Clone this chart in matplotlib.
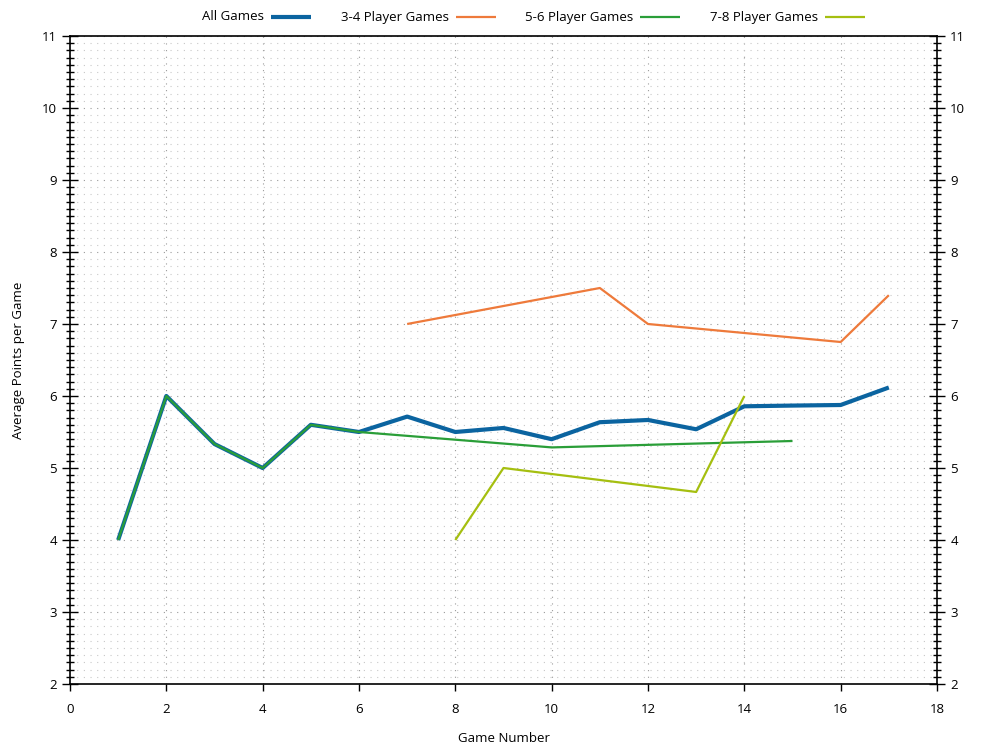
import matplotlib
matplotlib.use("Agg")
import matplotlib.pyplot as plt
from matplotlib.ticker import MultipleLocator
from matplotlib.lines import Line2D

plt.rcParams['font.family'] = ['Open Sans', 'DejaVu Sans']
plt.rcParams['font.size'] = 9.5

all_x = list(range(1, 18))
all_y = [4.0, 6.0, 5.333, 5.0, 5.6, 5.5, 5.714, 5.5, 5.556, 5.4, 5.636, 5.667, 5.538, 5.857, 5.867, 5.875, 6.118]

p34_x = [7, 11, 12, 16, 17]
p34_y = [7.0, 7.5, 7.0, 6.75, 7.4]

p56_x = [1, 2, 3, 4, 5, 6, 10, 15]
p56_y = [4.0, 6.0, 5.333, 5.0, 5.6, 5.5, 5.286, 5.375]

p78_x = [8, 9, 13, 14]
p78_y = [4.0, 5.0, 4.667, 6.0]

series_labels = ['All Games', '3-4 Player Games', '5-6 Player Games', '7-8 Player Games']
series_colors = ['#0b64a0', '#ee7a3b', '#2a9e38', '#a5bf10']
series_widths = [3.0, 1.6, 1.6, 1.6]

W, H = 1000, 750
fig = plt.figure(figsize=(10, 7.5), dpi=100)
ax = fig.add_axes([0.07, 0.088, 0.867, 0.864])

data = [(all_x, all_y), (p34_x, p34_y), (p56_x, p56_y), (p78_x, p78_y)]
for (xs, ys), lab, c, lw, z in zip(data, series_labels, series_colors, series_widths, [3, 4, 4, 4]):
    ax.plot(xs, ys, color=c, lw=lw, label=lab, zorder=z, solid_capstyle='butt')

ax.set_xlim(0, 18)
ax.set_ylim(2, 11)
ax.xaxis.set_major_locator(MultipleLocator(2))
ax.yaxis.set_major_locator(MultipleLocator(1))
ax.yaxis.set_minor_locator(MultipleLocator(0.1))

ax.grid(which='major', axis='both', linestyle=(0, (1, 5)), color='#9a9a9a', lw=0.8)
ax.grid(which='minor', axis='y', linestyle=(0, (1, 5)), color='#c8c8c8', lw=0.8)
ax.set_axisbelow(True)

ax.tick_params(axis='y', which='major', direction='inout', length=11, width=1,
               left=True, right=True, labelleft=True, labelright=True, pad=4)
ax.tick_params(axis='y', which='minor', direction='inout', length=6, width=1,
               left=True, right=True)
ax.tick_params(axis='x', which='major', direction='out', length=5, width=1, pad=9)
for s in ax.spines.values():
    s.set_linewidth(1.2)

ax.set_xlabel('Game Number', labelpad=11)
ax.set_ylabel('Average Points per Game', labelpad=12)

# gnuplot-style key: text then sample, equal column widths
y_key = 1 - 17 / H
for i, (lab, c, lw) in enumerate(zip(series_labels, series_colors, series_widths)):
    x_end = 311 + 184.7 * i
    x_start = x_end - 40
    fig.add_artist(Line2D([x_start / W, x_end / W], [y_key, y_key], color=c, lw=lw,
                          transform=fig.transFigure, solid_capstyle='butt'))
    fig.text((x_start - 7) / W, y_key, lab, ha='right', va='center')

fig.savefig('out.png', dpi=100)
